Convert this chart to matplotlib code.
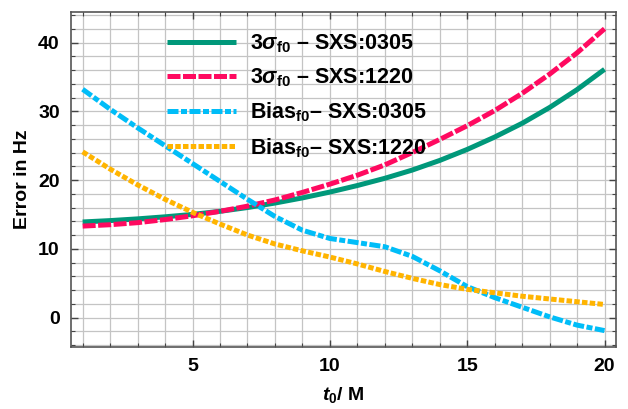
import numpy as np
import matplotlib
matplotlib.use("Agg")
import matplotlib.pyplot as plt
from matplotlib import ticker

plt.rcParams["font.family"] = ["Liberation Sans", "DejaVu Sans"]
plt.rcParams["font.weight"] = "bold"
plt.rcParams["mathtext.fontset"] = "custom"
plt.rcParams["mathtext.rm"] = "Liberation Sans:bold"
plt.rcParams["mathtext.it"] = "Liberation Sans:italic:bold"
plt.rcParams["mathtext.bf"] = "Liberation Sans:bold"

# t0 values (in M) and errors
t0 = [1, 2, 3, 4, 5, 6, 7, 8, 9, 10, 11, 12, 13, 14, 15, 16, 17, 18, 19, 20]
sigma_0305 = [13.9, 14.1, 14.35, 14.65, 15.0, 15.45, 16.0, 16.65, 17.4, 18.25,
              19.2, 20.25, 21.45, 22.85, 24.45, 26.25, 28.25, 30.55, 33.15, 36.1]
sigma_1220 = [13.3, 13.5, 13.8, 14.25, 14.8, 15.45, 16.2, 17.1, 18.2, 19.4,
              20.7, 22.2, 24.0, 25.9, 27.9, 30.1, 32.6, 35.4, 38.5, 42.0]
bias_0305 = [33.2, 30.3, 27.6, 25.0, 22.4, 19.8, 17.2, 14.7, 12.7, 11.5,
             10.9, 10.3, 8.9, 6.8, 4.5, 2.9, 1.5, 0.1, -1.1, -1.9]
bias_1220 = [24.1, 21.6, 19.3, 17.2, 15.3, 13.6, 12.0, 10.7, 9.7, 8.8,
             7.8, 6.7, 5.7, 4.8, 4.1, 3.6, 3.1, 2.7, 2.3, 1.9]

labels = [r"3$\sigma_{\mathrm{f0}}$ – SXS:0305",
          r"3$\sigma_{\mathrm{f0}}$ – SXS:1220",
          r"Bias$_{\mathrm{f0}}$– SXS:0305",
          r"Bias$_{\mathrm{f0}}$– SXS:1220"]

fig = plt.figure(figsize=(6.28, 4.09), dpi=100)
ax = fig.add_axes([0.113, 0.152, 0.868, 0.818])

ax.plot(t0, sigma_0305, color="#00987a", lw=3.6, solid_capstyle="butt",
        solid_joinstyle="round", label=labels[0])
ax.plot(t0, sigma_1220, color="#ff0a60", lw=3.6, dashes=(2.6, 0.5), label=labels[1])
ax.plot(t0, bias_0305, color="#00bdf8", lw=3.6, dashes=(2.2, 0.5, 1.2, 0.5), label=labels[2])
ax.plot(t0, bias_1220, color="#ffb400", lw=3.6, dashes=(1.1, 0.45), label=labels[3])

ax.set_xlim(0.575, 20.42)
ax.set_ylim(-4.26, 44.4)

# grid on every integer in x and every 2 in y
for xv in range(1, 21):
    ax.axvline(xv, color="#c4c4c4", lw=0.9, zorder=0)
for yv in range(-4, 45, 2):
    ax.axhline(yv, color="#c4c4c4", lw=0.9, zorder=0)

ax.xaxis.set_major_locator(ticker.MultipleLocator(5))
ax.xaxis.set_minor_locator(ticker.MultipleLocator(1))
ax.yaxis.set_major_locator(ticker.MultipleLocator(10))
ax.yaxis.set_minor_locator(ticker.MultipleLocator(2))
ax.tick_params(which="both", direction="in", top=True, right=True, color="#444444",
               labelsize=14, pad=8)
ax.tick_params(which="major", length=5, width=1)
ax.tick_params(which="minor", length=3, width=0.8)
for lab in ax.get_xticklabels() + ax.get_yticklabels():
    lab.set_fontweight("bold")
for sp in ax.spines.values():
    sp.set_color("#555555")
    sp.set_linewidth(1.2)

ax.set_xlabel(r"$t_{0}$/ M", fontsize=14, fontweight="bold", labelpad=7)
ax.set_ylabel("Error in Hz", fontsize=14, fontweight="bold", labelpad=5)

ax.legend(loc="upper left", bbox_to_anchor=(0.176, 0.94), frameon=False,
          borderpad=0, borderaxespad=0,
          handlelength=3.2, handletextpad=0.65, labelspacing=0.54,
          prop={"size": 15.5, "weight": "bold"})

fig.savefig("out.png", dpi=100)
